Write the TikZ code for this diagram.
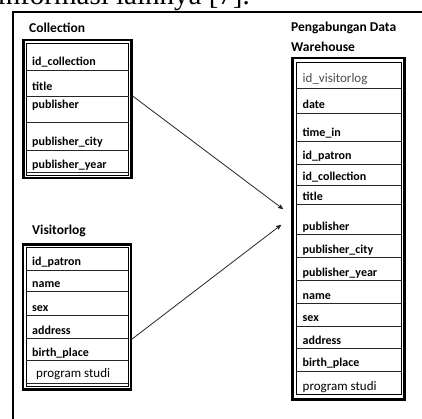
\documentclass[tikz,border=0pt]{standalone}
\usepackage{fontspec}
\setmainfont{Carlito}
\newfontfamily\teksserif{Liberation Serif}
\usetikzlibrary{arrows}
\tikzset {
luar/.style={shape=rectangle,draw,line width=2.2pt,inner sep=0pt},
dalam/.style={shape=rectangle,draw,line width=0.7pt,inner sep=0pt},
garis/.style={draw=black!85,line width=0.7pt},
judul/.style={anchor=base west,inner sep=0pt,font=\fontsize{13.5}{15}\selectfont\bfseries},
kolom/.style={anchor=base west,inner sep=0pt,font=\fontsize{12}{14}\selectfont\bfseries},
kolomtipis/.style={anchor=base west,inner sep=0pt,font=\fontsize{13}{15}\selectfont}
}

\begin{document}
\begin{tikzpicture}
[>=stealth',x=1pt,y=-1pt]
\useasboundingbox (0,0) rectangle (422,419);
\node[anchor=base east,inner sep=0pt,font=\teksserif\fontsize{29}{32}\selectfont] (kalimat) at (250,5) {informasi lainnya [7].};
\draw[line width=1.3pt] (13,419) -- (13,12) -- (422,12);

% tabel Collection
\node[judul] (judul collection) at (29,33) {Collection};
\node[luar,minimum width=108pt,minimum height=138pt] (collection) at (77.5,109) {};
\node[dalam,minimum width=102pt,minimum height=131.5pt] (collection dalam) at (77.5,109.25) {};
\foreach \y in {70,96,122,150,172}
  \draw[garis] (collection dalam.west |- 0,\y) -- (collection dalam.east |- 0,\y);
\node[kolom] (c id collection) at (32,66) {id\_collection};
\node[kolom] (c title) at (32,90.5) {title};
\node[kolom] (c publisher) at (32,109) {publisher};
\node[kolom] (c publisher city) at (32,145.5) {publisher\_city};
\node[kolom] (c publisher year) at (32,168.5) {publisher\_year};

% tabel Visitorlog
\node[judul] (judul visitorlog) at (32,234) {Visitorlog};
\node[luar,minimum width=108pt,minimum height=145pt] (visitorlog) at (77,317) {};
\node[dalam,minimum width=101.5pt,minimum height=138.5pt] (visitorlog dalam) at (77.25,316.75) {};
\foreach \y in {270,291.5,315,338.5,360.5,383}
  \draw[garis] (visitorlog dalam.west |- 0,\y) -- (visitorlog dalam.east |- 0,\y);
\node[kolom] (v id patron) at (32,265.5) {id\_patron};
\node[kolom] (v name) at (32,287.5) {name};
\node[kolom] (v sex) at (32,311.5) {sex};
\node[kolom] (v address) at (32,334) {address};
\node[kolom] (v birth place) at (32,356.5) {birth\_place};
\node[kolomtipis] (v program studi) at (36,377) {program studi};

% tabel gabungan
\node[judul] (judul gabungan) at (291,31.5) {Pengabungan Data};
\node[judul] (judul warehouse) at (291,51.5) {Warehouse};
\node[luar,minimum width=112pt,minimum height=341.5pt] (warehouse) at (348.5,228.75) {};
\node[dalam,minimum width=105pt,minimum height=332.5pt] (warehouse dalam) at (348.5,228.25) {};
\foreach \y in {88,113.5,141.5,164,185,204,234,257.5,280,303.5,326,348.5,371.5}
  \draw[garis] (warehouse dalam.west |- 0,\y) -- (warehouse dalam.east |- 0,\y);
\node[kolomtipis,text=black!70] (w id visitorlog) at (302.5,82.5) {id\_visitorlog};
\node[kolom] (w date) at (302.5,109) {date};
\node[kolom] (w time in) at (302.5,136.5) {time\_in};
\node[kolom] (w id patron) at (302.5,160) {id\_patron};
\node[kolom] (w id collection) at (302.5,180.5) {id\_collection};
\node[kolom] (w title) at (302.5,200.5) {title};
\node[kolom] (w publisher) at (302.5,230) {publisher};
\node[kolom] (w publisher city) at (302.5,253.5) {publisher\_city};
\node[kolom] (w publisher year) at (302.5,276) {publisher\_year};
\node[kolom] (w name) at (302.5,299.5) {name};
\node[kolom] (w sex) at (302.5,321) {sex};
\node[kolom] (w address) at (302.5,344) {address};
\node[kolom] (w birth place) at (302.5,366.5) {birth\_place};
\node[kolomtipis] (w program studi) at (302.5,390) {program studi};

\coordinate (keluar collection) at (collection.east |- 0,96);
\coordinate (keluar visitorlog) at (visitorlog.east |- 0,339);
\coordinate (masuk atas) at (283,209);
\coordinate (masuk bawah) at (281,225);
\draw[->,black!85,line width=0.8pt] (keluar collection) to (masuk atas);
\draw[->,black!85,line width=0.8pt] (keluar visitorlog) to (masuk bawah);
\end{tikzpicture}
\end{document}
